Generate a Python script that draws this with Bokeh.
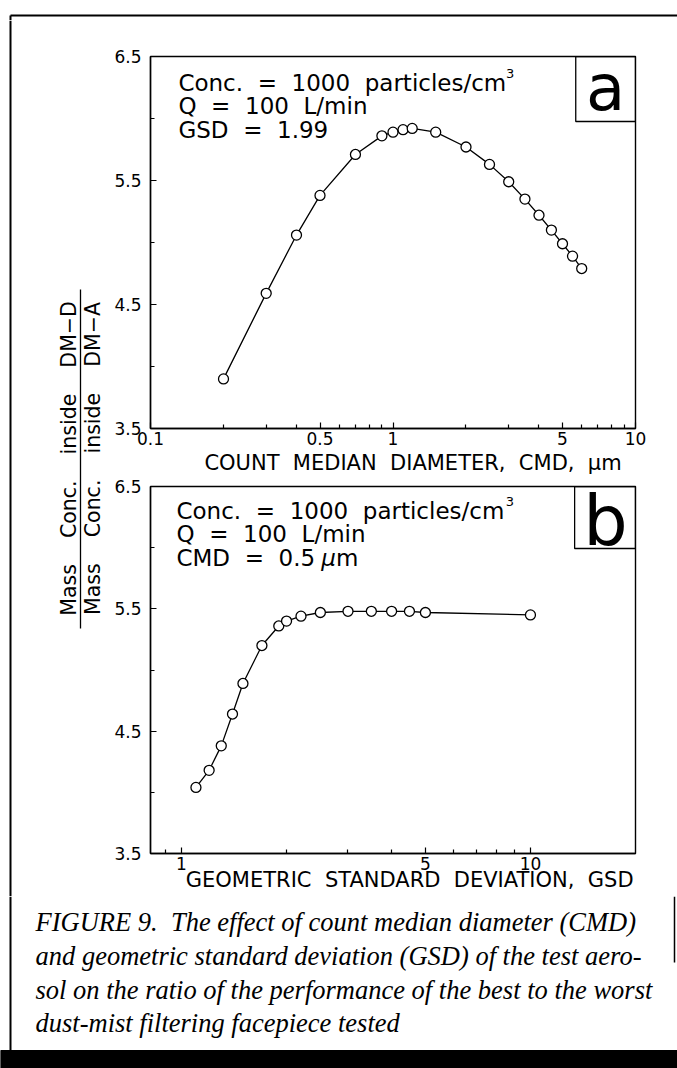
from math import pi, log10
from bokeh.plotting import figure
from bokeh.layouts import column, row
from bokeh.models import Range1d, FixedTicker, NumeralTickFormatter, BoxAnnotation, Label
from bokeh.core.properties import value
from bokeh.embed import file_html
from bokeh.resources import INLINE

# ---------------- data ----------------
cmd_um = [0.2, 0.3, 0.4, 0.5, 0.7, 0.9, 1.0, 1.1, 1.2, 1.5, 2.0, 2.5, 3.0, 3.5, 4.0, 4.5, 5.0, 5.5, 6.0]
ratio_vs_cmd = [3.90, 4.59, 5.06, 5.38, 5.71, 5.86, 5.89, 5.91, 5.92, 5.89, 5.77, 5.63, 5.49, 5.35, 5.22, 5.10, 4.99, 4.89, 4.79]
gsd_vals = [1.1, 1.2, 1.3, 1.4, 1.5, 1.7, 1.9, 2.0, 2.2, 2.5, 3.0, 3.5, 4.0, 4.5, 5.0, 10.0]
ratio_vs_gsd = [4.04, 4.18, 4.38, 4.64, 4.89, 5.20, 5.36, 5.40, 5.44, 5.47, 5.48, 5.48, 5.48, 5.48, 5.47, 5.45]

y_ticks = [3.5, 4.5, 5.5, 6.5]
y_minor = [4.0, 5.0, 6.0]
cmd_ticks = [0.1, 0.5, 1, 5, 10]
cmd_minor = [0.2, 0.3, 0.4, 0.6, 0.7, 0.8, 0.9, 2, 3, 4, 6, 7, 8, 9]
gsd_ticks = [1, 5, 10]
gsd_minor = [0.9, 2, 3, 4, 6, 7, 8, 9]

cmd_range = (0.1, 10.0)
gsd_range = (0.815, 20.0)
ratio_range = (3.5, 6.5)

text_a = ["Conc. = 1000 particles/cm", "Q = 100 L/min", "GSD = 1.99"]
text_b = ["Conc. = 1000 particles/cm", "Q = 100 L/min", "CMD = 0.5"]
xlabel_a = "COUNT MEDIAN DIAMETER, CMD, \u03bcm"
xlabel_b = "GEOMETRIC STANDARD DEVIATION, GSD"
ylabel_num = "Mass Conc. inside DM\u2212D"
ylabel_den = "Mass Conc. inside DM\u2212A"
caption = [
    "FIGURE 9.  The effect of count median diameter (CMD)",
    "and geometric standard deviation (GSD) of the test aero-",
    "sol on the ratio of the performance of the best to the worst",
    "dust-mist filtering facepiece tested",
]

FONT = "DejaVu Sans"
SERIF = "Liberation Serif"
NB = "\u00a0"


def wide(s, n=2):
    return s.replace(" ", NB * n)


def mid(baseline, size):
    # y of the text-box middle for a given alphabetic baseline (DejaVu metrics)
    return baseline - 0.346 * size


# ---------------- page geometry ----------------
W = 677
LEFT_W = 110
PANEL_W = W - LEFT_W
TOP_H = 20
A_H = 458
B_H = 418
CAP_H = 1068 - TOP_H - A_H - B_H
X0 = LEFT_W  # page x of panel figures


def bare(width, height, xr, yr):
    p = figure(width=width, height=height, x_range=Range1d(*xr), y_range=Range1d(*yr),
               output_backend="svg", toolbar_location=None,
               x_axis_location=None, y_axis_location=None,
               min_border_left=0, min_border_right=0, min_border_top=0, min_border_bottom=0)
    p.outline_line_color = None
    p.grid.visible = False
    p.background_fill_color = "white"
    p.border_fill_color = "white"
    return p


def make_panel(fig_top, height, frame, xr, ticks, minor, text_spec, xs, ys, xlabel, pad, lab_standoff):
    fl, ft, fr, fb = frame
    p = figure(width=PANEL_W, height=height, x_axis_type="log",
               x_range=Range1d(*xr), y_range=Range1d(*ratio_range),
               output_backend="svg", toolbar_location=None,
               min_border_left=fl - X0, min_border_right=X0 + PANEL_W - fr,
               min_border_top=ft - fig_top, min_border_bottom=fig_top + height - fb)
    p.grid.visible = False
    p.outline_line_color = "black"
    p.outline_line_width = 1.4
    p.background_fill_color = "white"
    p.border_fill_color = "white"
    p.xaxis.ticker = FixedTicker(ticks=ticks, minor_ticks=minor)
    p.xaxis.formatter = NumeralTickFormatter(format="0.[0]")
    p.yaxis.ticker = FixedTicker(ticks=y_ticks, minor_ticks=y_minor)
    p.yaxis.formatter = NumeralTickFormatter(format="0.0")
    for ax in p.axis:
        ax.major_tick_in = 6
        ax.major_tick_out = 0
        ax.minor_tick_in = 4
        ax.minor_tick_out = 0
        ax.axis_line_width = 1.4
        ax.major_tick_line_width = 1.2
        ax.minor_tick_line_width = 1.2
        ax.major_label_text_font = FONT
        ax.major_label_text_font_size = "17px"
        ax.major_label_text_color = "black"
    p.yaxis.major_label_standoff = 9
    p.xaxis.major_label_standoff = 3
    p.xaxis.axis_label = NB * pad + wide(xlabel)
    p.xaxis.axis_label_text_font = FONT
    p.xaxis.axis_label_text_font_size = "21px"
    p.xaxis.axis_label_text_font_style = "normal"
    p.xaxis.axis_label_text_color = "black"
    p.xaxis.axis_label_standoff = lab_standoff

    lx0, lx1 = log10(xr[0]), log10(xr[1])

    def dx(px):
        return 10 ** (lx0 + (px - fl) / (fr - fl) * (lx1 - lx0))

    def dy(py):
        return ratio_range[1] - (py - ft) / (fb - ft) * (ratio_range[1] - ratio_range[0])

    p.line(xs, ys, line_color="black", line_width=1.3)
    p.scatter(xs, ys, marker="circle", size=10, fill_color="white", line_color="black", line_width=1.3)

    tx, base, step, texts = text_spec
    for i, t in enumerate(texts):
        p.add_layout(Label(x=dx(tx), y=dy(mid(base + i * step, 23)), text=wide(t), text_font=FONT,
                           text_font_size="23px", text_baseline="middle", text_align="left",
                           text_color="black"))
    return p, dx, dy


def lab(p, x, y, text, size, style="normal", align="left"):
    p.add_layout(Label(x=x, y=y, text=text, text_font=FONT, text_font_size=size,
                       text_font_style=style, text_baseline="middle", text_align=align,
                       text_color="black"))


# ---------------- panel a ----------------
frame_a = (150, 56, 637, 428)
pa, dxa, dya = make_panel(TOP_H, A_H, frame_a, cmd_range, cmd_ticks, cmd_minor,
                          (178, 90, 23.5, text_a), cmd_um, ratio_vs_cmd, xlabel_a, 6, 3)
lab(pa, dxa(507), dya(mid(77, 13)), "3", "13px")
pa.add_layout(BoxAnnotation(left=dxa(577), right=cmd_range[1], bottom=dya(121), top=ratio_range[1],
                            fill_alpha=0, line_color="black", line_alpha=1.0, line_width=1.3))
lab(pa, dxa(607), dya(mid(110, 64)), "a", "64px", align="center")

# ---------------- panel b ----------------
frame_b = (149, 486, 635, 853)
pb, dxb, dyb = make_panel(TOP_H + A_H, B_H, frame_b, gsd_range, gsd_ticks, gsd_minor,
                          (175, 518, 23.5, text_b), gsd_vals, ratio_vs_gsd, xlabel_b, 5, -5)
lab(pb, dxb(505), dyb(mid(505, 13)), "3", "13px")
lab(pb, dxb(320), dyb(mid(565, 23)), "\u03bc", "23px", style="italic")
lab(pb, dxb(335), dyb(mid(565, 23)), "m", "23px")
pb.add_layout(BoxAnnotation(left=dxb(574), right=gsd_range[1], bottom=dyb(548), top=ratio_range[1],
                            fill_alpha=0, line_color="black", line_alpha=1.0, line_width=1.3))
lab(pb, dxb(605), dyb(mid(545, 70)), "b", "70px", align="center")

# ---------------- top border ----------------
top = bare(W, TOP_H, (0, W), (TOP_H, 0))
top.segment(x0=[10, 10], y0=[15, 15], x1=[W, 10], y1=[15, TOP_H], line_color="black", line_width=2)

# ---------------- left strip with y label ----------------
left = bare(LEFT_W, A_H + B_H, (0, LEFT_W), (TOP_H + A_H + B_H, TOP_H))
left.segment(x0=[10], y0=[TOP_H], x1=[10], y1=[TOP_H + A_H + B_H], line_color="black", line_width=2)
left.segment(x0=[80], y0=[289], x1=[80], y1=[628], line_color="black", line_width=1.3)
left.text(x=[68], y=[458], text=[wide(ylabel_num, 4)], angle=pi / 2, text_align="center",
          text_baseline="middle", text_font=value(FONT), text_font_size="20.5px", text_color="black")
left.text(x=[92], y=[458], text=[wide(ylabel_den, 4)], angle=pi / 2, text_align="center",
          text_baseline="middle", text_font=value(FONT), text_font_size="20.5px", text_color="black")

# ---------------- caption ----------------
cap_top = TOP_H + A_H + B_H
cap = bare(W, CAP_H, (0, W), (1068, cap_top))
cap.segment(x0=[10, 674], y0=[cap_top, cap_top], x1=[10, 674], y1=[1050, 962],
            line_color="black", line_width=[2, 1.5])
cap.quad(left=[0], right=[W], top=[1050], bottom=[1068], fill_color="black", line_color="black")
cap.text(x=[35] * 4, y=[921, 955, 989, 1022], text=[c.replace("  ", NB + " ") for c in caption],
         text_font=value(SERIF), text_font_style="italic", text_font_size="26.5px", text_align="left",
         text_baseline="alphabetic", text_color="black")

layout = column(top, row(left, column(pa, pb, spacing=0), spacing=0), cap, spacing=0)
open("out.html", "w").write(file_html(layout, INLINE))
